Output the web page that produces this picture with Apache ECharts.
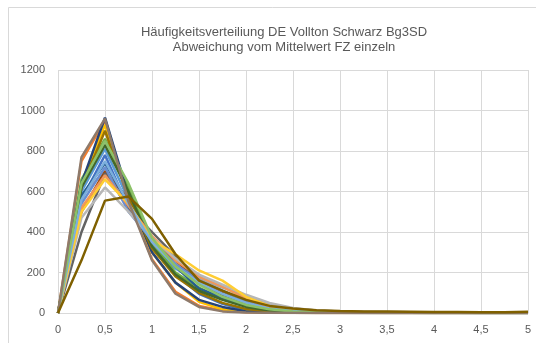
<!DOCTYPE html>
<html>
<head>
<meta charset="utf-8">
<script src="https://cdn.jsdelivr.net/npm/echarts@6/dist/echarts.min.js"></script>
<style>
  html, body { margin: 0; padding: 0; background: #fff; }
  #chart { width: 536px; height: 343px; }
</style>
</head>
<body>
<div id="chart"></div>
<script>
// Abweichung vom Mittelwert (x) in Schritten von 0,25
const xValues = [0, 0.25, 0.5, 0.75, 1, 1.25, 1.5, 1.75, 2, 2.25, 2.5, 2.75, 3, 3.25, 3.5, 3.75, 4, 4.25, 4.5, 4.75, 5];

// Häufigkeiten je Messreihe
const s01 = [0, 560, 780, 520, 330, 190, 95, 45, 12, 4, 2, 1, 1, 0, 0, 0, 0, 0, 0, 0, 0];
const s02 = [0, 750, 950, 560, 265, 105, 35, 12, 4, 2, 1, 0, 0, 0, 0, 0, 0, 0, 0, 0, 0];
const s03 = [0, 580, 700, 520, 360, 250, 170, 125, 85, 45, 22, 12, 8, 6, 5, 4, 3, 3, 2, 2, 2];
const s04 = [0, 640, 930, 560, 300, 150, 55, 18, 6, 2, 1, 0, 0, 0, 0, 0, 0, 0, 0, 0, 0];
const s05 = [0, 600, 810, 560, 340, 220, 150, 100, 55, 25, 12, 6, 4, 3, 2, 2, 1, 1, 1, 1, 1];
const s06 = [0, 660, 860, 620, 350, 200, 125, 70, 35, 15, 8, 4, 3, 2, 2, 1, 1, 1, 1, 1, 1];
const s07 = [0, 640, 965, 580, 300, 150, 65, 30, 8, 2, 1, 0, 0, 0, 0, 0, 0, 0, 0, 0, 0];
const s08 = [0, 500, 700, 560, 350, 260, 160, 105, 60, 30, 15, 8, 6, 4, 3, 2, 2, 2, 1, 1, 1];
const s09 = [0, 400, 690, 520, 400, 280, 150, 90, 50, 25, 12, 8, 6, 4, 3, 3, 2, 2, 2, 2, 2];
const s10 = [0, 620, 900, 570, 320, 180, 100, 50, 20, 8, 4, 2, 1, 1, 0, 0, 0, 0, 0, 0, 0];
const s11 = [0, 580, 740, 540, 360, 230, 120, 75, 40, 18, 8, 4, 3, 2, 1, 1, 1, 1, 0, 0, 0];
const s12 = [0, 620, 830, 600, 330, 190, 110, 65, 30, 12, 6, 3, 2, 1, 1, 1, 0, 0, 0, 0, 0];
const s13 = [0, 540, 720, 500, 360, 240, 160, 110, 60, 30, 15, 8, 5, 3, 2, 2, 1, 1, 1, 1, 1];
const s14 = [0, 520, 680, 530, 380, 260, 180, 130, 70, 30, 15, 8, 5, 3, 2, 2, 1, 1, 1, 1, 1];
const s15 = [0, 470, 620, 500, 370, 270, 190, 140, 90, 50, 25, 12, 8, 6, 4, 3, 3, 2, 2, 2, 2];
const s16 = [0, 500, 660, 540, 360, 290, 210, 160, 80, 35, 15, 8, 5, 4, 3, 2, 2, 2, 1, 1, 1];
const s17 = [0, 560, 750, 540, 350, 230, 150, 95, 50, 22, 10, 5, 3, 2, 2, 1, 1, 1, 1, 1, 1];
const s18 = [0, 640, 850, 640, 370, 230, 140, 80, 40, 18, 8, 4, 3, 2, 1, 1, 1, 1, 1, 1, 1];
const s19 = [0, 770, 960, 550, 260, 95, 30, 8, 2, 1, 0, 0, 0, 0, 0, 0, 0, 0, 0, 0, 0];
const s20 = [0, 260, 555, 575, 465, 290, 160, 110, 65, 35, 22, 14, 10, 8, 7, 6, 5, 5, 4, 4, 6];

const seriesValues = [s01, s02, s03, s04, s05, s06, s07, s08, s09, s10,
                      s11, s12, s13, s14, s15, s16, s17, s18, s19, s20];

const lineColors = ['#4472C4', '#ED7D31', '#A5A5A5', '#FFC000', '#5B9BD5', '#70AD47',
                    '#264478', '#9E480E', '#636363', '#997300', '#255E91', '#43682B',
                    '#698ED0', '#F1975A', '#B7B7B7', '#FFCD33', '#7CAFDD', '#8CC168',
                    '#8E7A6B', '#7F6000'];

const titleLines = ['Häufigkeitsverteiliung DE Vollton Schwarz Bg3SD',
                    'Abweichung vom Mittelwert FZ einzeln'];

const chart = echarts.init(document.getElementById('chart'));

const series = seriesValues.map((vals, i) => ({
  type: 'line',
  name: 'Reihe ' + (i + 1),
  data: vals.map((v, j) => [xValues[j], v]),
  symbol: 'none',
  smooth: false,
  lineStyle: { width: 2.5, color: lineColors[i] },
  itemStyle: { color: lineColors[i] },
  z: 2 + i
}));

const fontFamily = 'Liberation Sans, Arial, sans-serif';

chart.setOption({
  animation: false,
  backgroundColor: '#ffffff',
  graphic: [{
    type: 'rect',
    shape: { x: 8.5, y: 7.5, width: 560, height: 380 },
    style: { fill: 'none', stroke: '#D9D9D9', lineWidth: 1 },
    silent: true,
    z: -1
  }, {
    type: 'text',
    x: 284,
    y: 25,
    silent: true,
    style: {
      text: titleLines.join('\n'),
      align: 'center',
      verticalAlign: 'top',
      fill: '#595959',
      font: '13px ' + fontFamily,
      lineHeight: 15
    }
  }],
  grid: { left: 58, right: 8, top: 70, bottom: 30 },
  xAxis: {
    type: 'value',
    min: 0,
    max: 5,
    interval: 0.5,
    axisLine: { show: true, lineStyle: { color: '#D9D9D9', width: 1 } },
    axisTick: { show: false },
    splitLine: { show: true, lineStyle: { color: '#D9D9D9', width: 1 } },
    axisLabel: {
      color: '#595959',
      fontFamily: fontFamily,
      fontSize: 11,
      margin: 11,
      formatter: v => String(v).replace('.', ',')
    }
  },
  yAxis: {
    type: 'value',
    min: 0,
    max: 1200,
    interval: 200,
    axisLine: { show: false },
    axisTick: { show: false },
    splitLine: { show: true, lineStyle: { color: '#D9D9D9', width: 1 } },
    axisLabel: {
      color: '#595959',
      fontFamily: fontFamily,
      fontSize: 11,
      margin: 13,
      formatter: v => String(v)
    }
  },
  series: series
});
</script>
</body>
</html>
